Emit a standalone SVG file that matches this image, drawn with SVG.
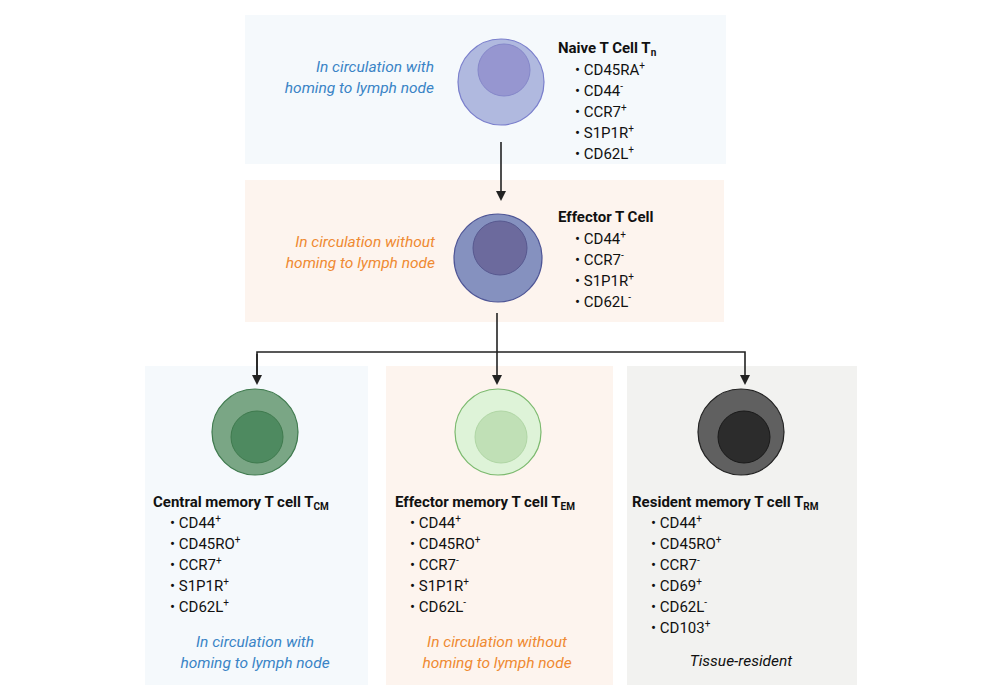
<svg xmlns="http://www.w3.org/2000/svg" width="1000" height="700" viewBox="0 0 1000 700">
<style>
text{font-family:Roboto,"Liberation Sans",sans-serif;font-size:15px;fill:#111}
.t{font-weight:bold}
.i{font-style:italic;font-size:15.5px}
.b{fill:#3a84c6}.o{fill:#ef8a32}
.s{font-size:10px}
.l{stroke:#222;stroke-width:1.6;fill:none}
</style>
<defs><marker id="a" markerWidth="10" markerHeight="10" refX="5" refY="5" orient="auto" markerUnits="userSpaceOnUse"><path d="M0,0 L10,5 L0,10 z" fill="#222"/></marker></defs>
<rect x="245" y="15" width="481" height="149" fill="#f5f9fc"/>
<rect x="245" y="180" width="479" height="142" fill="#fdf4ee"/>
<rect x="145" y="366" width="223" height="319" fill="#f5f9fc"/>
<rect x="386" y="366" width="227" height="319" fill="#fdf4ee"/>
<rect x="627" y="366" width="230" height="319" fill="#f2f2f0"/>
<g id="connectors">
<path class="l" d="M501,142 V196" marker-end="url(#a)"/>
<path class="l" d="M497,313 V380" marker-end="url(#a)"/>
<path class="l" d="M257,380 V352 H745 V380" marker-end="url(#a)"/>
<path class="l" d="M257,354 V380" marker-end="url(#a)"/>
</g>
<g id="naive">
<circle cx="501" cy="82" r="43" fill="#b0b9df" stroke="#7a7fcc" stroke-width="1.2"/>
<circle cx="504" cy="70" r="26" fill="#9696d0" stroke="#8587c9"/>
<text x="434" y="72" text-anchor="end" class="i b">In circulation with</text>
<text x="434" y="93" text-anchor="end" class="i b">homing to lymph node</text>
<text x="558" y="53" class="t">Naive T Cell T<tspan class="s" dy="3">n</tspan></text>
<text x="575" y="75">•  CD45RA<tspan class="s" dy="-6">+</tspan></text>
<text x="575" y="96">•  CD44<tspan class="s" dy="-6">-</tspan></text>
<text x="575" y="117">•  CCR7<tspan class="s" dy="-6">+</tspan></text>
<text x="575" y="138">•  S1P1R<tspan class="s" dy="-6">+</tspan></text>
<text x="575" y="159">•  CD62L<tspan class="s" dy="-6">+</tspan></text>
</g>
<g id="effector">
<circle cx="498" cy="258" r="44" fill="#8591bf" stroke="#4e5596" stroke-width="1.2"/>
<circle cx="500" cy="248" r="27" fill="#6c6a9d" stroke="#57588f"/>
<text x="435" y="247" text-anchor="end" class="i o">In circulation without</text>
<text x="435" y="268" text-anchor="end" class="i o">homing to lymph node</text>
<text x="558" y="222" class="t">Effector T Cell</text>
<text x="575" y="244">•  CD44<tspan class="s" dy="-6">+</tspan></text>
<text x="575" y="265">•  CCR7<tspan class="s" dy="-6">-</tspan></text>
<text x="575" y="286">•  S1P1R<tspan class="s" dy="-6">+</tspan></text>
<text x="575" y="307">•  CD62L<tspan class="s" dy="-6">-</tspan></text>
</g>
<g id="tcm">
<circle cx="255" cy="432" r="43" fill="#7aa685" stroke="#3f7a4e" stroke-width="1.2"/>
<circle cx="257" cy="437" r="26" fill="#4e8a60" stroke="#3f7a4e"/>
<text x="153" y="507" class="t">Central memory T cell T<tspan class="s" dy="3">CM</tspan></text>
<text x="170" y="528">•  CD44<tspan class="s" dy="-6">+</tspan></text>
<text x="170" y="549">•  CD45RO<tspan class="s" dy="-6">+</tspan></text>
<text x="170" y="570">•  CCR7<tspan class="s" dy="-6">+</tspan></text>
<text x="170" y="591">•  S1P1R<tspan class="s" dy="-6">+</tspan></text>
<text x="170" y="612">•  CD62L<tspan class="s" dy="-6">+</tspan></text>
<text x="255" y="647" text-anchor="middle" class="i b">In circulation with</text>
<text x="255" y="668" text-anchor="middle" class="i b">homing to lymph node</text>
</g>
<g id="tem">
<circle cx="498" cy="432" r="43" fill="#def3d8" stroke="#7bb96e" stroke-width="1.2"/>
<circle cx="501" cy="437" r="26" fill="#c0e0b6" stroke="#b0d6a5"/>
<text x="395" y="507" class="t">Effector memory T cell T<tspan class="s" dy="3">EM</tspan></text>
<text x="410" y="528">•  CD44<tspan class="s" dy="-6">+</tspan></text>
<text x="410" y="549">•  CD45RO<tspan class="s" dy="-6">+</tspan></text>
<text x="410" y="570">•  CCR7<tspan class="s" dy="-6">-</tspan></text>
<text x="410" y="591">•  S1P1R<tspan class="s" dy="-6">+</tspan></text>
<text x="410" y="612">•  CD62L<tspan class="s" dy="-6">-</tspan></text>
<text x="497" y="647" text-anchor="middle" class="i o">In circulation without</text>
<text x="497" y="668" text-anchor="middle" class="i o">homing to lymph node</text>
</g>
<g id="trm">
<circle cx="741" cy="432" r="43" fill="#606060" stroke="#222" stroke-width="1.2"/>
<circle cx="744" cy="437" r="26" fill="#2c2c2c" stroke="#1a1a1a"/>
<text x="632" y="507" class="t">Resident memory T cell T<tspan class="s" dy="3">RM</tspan></text>
<text x="651" y="528">•  CD44<tspan class="s" dy="-6">+</tspan></text>
<text x="651" y="549">•  CD45RO<tspan class="s" dy="-6">+</tspan></text>
<text x="651" y="570">•  CCR7<tspan class="s" dy="-6">-</tspan></text>
<text x="651" y="591">•  CD69<tspan class="s" dy="-6">+</tspan></text>
<text x="651" y="612">•  CD62L<tspan class="s" dy="-6">-</tspan></text>
<text x="651" y="633">•  CD103<tspan class="s" dy="-6">+</tspan></text>
<text x="741" y="666" text-anchor="middle" class="i">Tissue-resident</text>
</g>
</svg>
